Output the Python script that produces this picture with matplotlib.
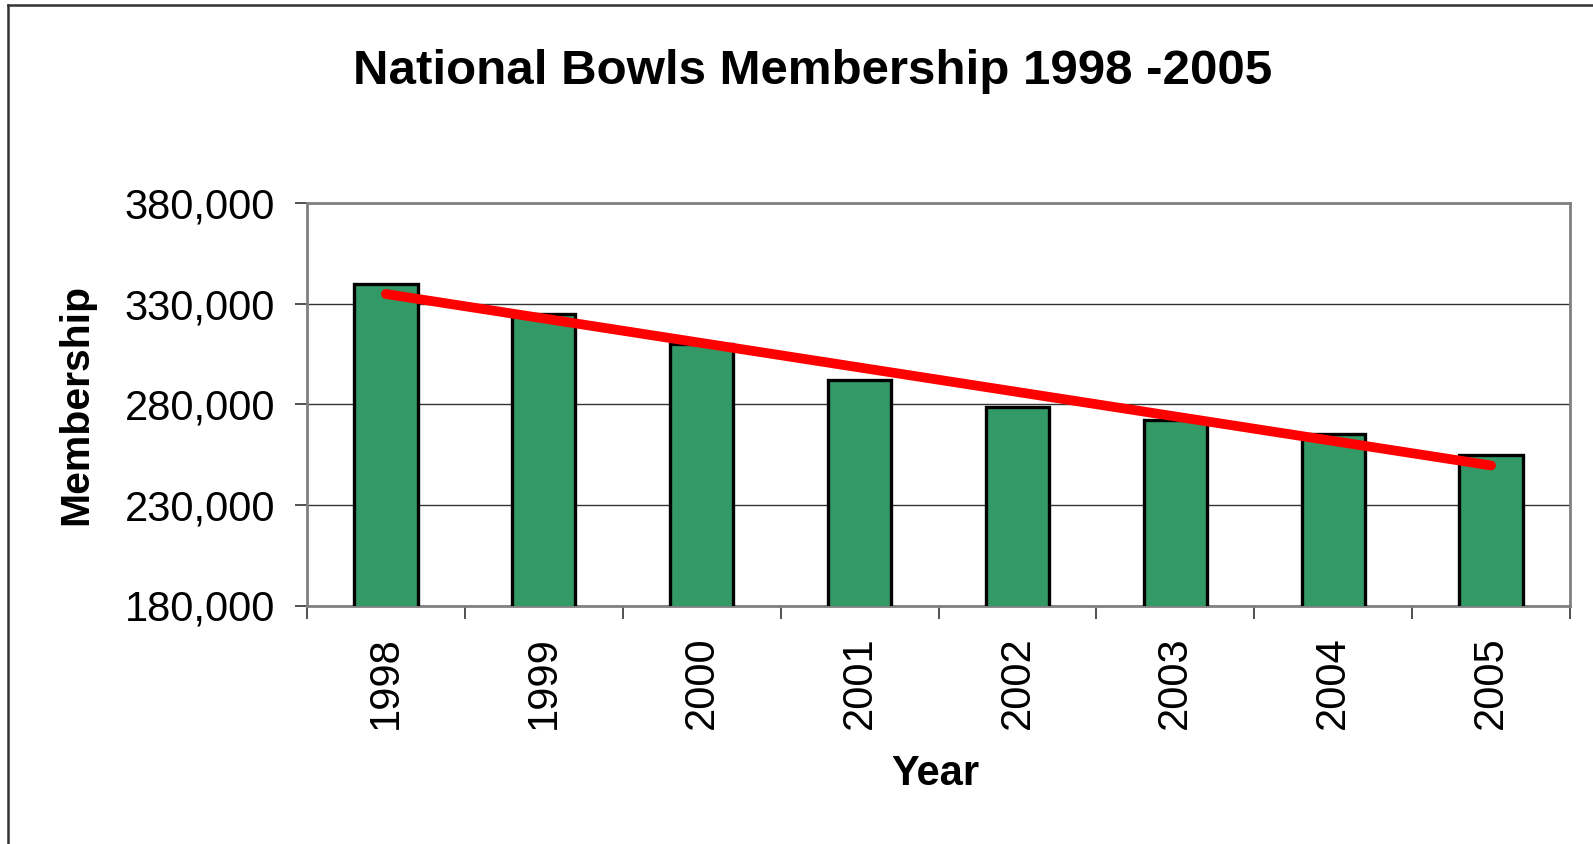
import numpy as np
import matplotlib
matplotlib.use("Agg")
import matplotlib.pyplot as plt
from matplotlib.lines import Line2D
from matplotlib.ticker import FuncFormatter, FixedLocator

plt.rcParams['font.family'] = ['Liberation Sans', 'DejaVu Sans']

years = ["1998", "1999", "2000", "2001", "2002", "2003", "2004", "2005"]
membership = [340000, 325000, 310000, 292000, 278500, 272000, 265000, 255000]
y_ticks = [180000, 230000, 280000, 330000, 380000]

W, H, DPI = 1593, 844, 100
fig = plt.figure(figsize=(W / DPI, H / DPI), dpi=DPI)
fig.patch.set_facecolor("white")

# outer chart border (left and top edges visible)
fig.add_artist(Line2D([8 / W, 8 / W], [0, 1 - 5 / H], transform=fig.transFigure,
                      color="#333333", lw=1.8))
fig.add_artist(Line2D([8 / W, 1], [1 - 5 / H, 1 - 5 / H], transform=fig.transFigure,
                      color="#333333", lw=1.8))

left, right, top, bottom = 307 / W, 1570 / W, 1 - 203 / H, 1 - 605.5 / H
ax = fig.add_axes([left, bottom, right - left, top - bottom])

x = np.arange(len(years))
ax.bar(x, membership, width=0.4, color="#339966", edgecolor="black",
       linewidth=2.4, zorder=3)

# linear trendline
coef = np.polyfit(x, membership, 1)
ax.plot([x[0], x[-1]], np.polyval(coef, [x[0], x[-1]]), color="#ff0000", lw=7,
        solid_capstyle="round", zorder=4)

ax.set_ylim(y_ticks[0], y_ticks[-1])
ax.set_xlim(-0.5, len(years) - 0.5)
ax.yaxis.set_major_locator(FixedLocator(y_ticks))
ax.yaxis.set_major_formatter(FuncFormatter(lambda v, p: f"{int(v):,}"))
ax.grid(axis="y", color="#333333", lw=1.0, zorder=1)

ax.xaxis.set_major_locator(FixedLocator(x))
ax.set_xticklabels(years, rotation=90, fontsize=30)
ax.xaxis.set_minor_locator(FixedLocator(np.arange(len(years) + 1) - 0.5))
ax.tick_params(axis="x", which="major", length=0, pad=22)
ax.tick_params(axis="x", which="minor", length=9, width=1.2, color="#333333")
ax.tick_params(axis="y", length=9, width=1.2, color="#333333", labelsize=30, pad=14)

for s in ax.spines.values():
    s.set_color("#808080")
    s.set_linewidth(2)

ax.set_ylabel("Membership", fontsize=29.5, fontweight="bold")
ax.yaxis.set_label_coords((76 - 307) / (1570 - 307), 0.5)
ax.yaxis.label.set_va("center")
ax.set_xlabel("Year", fontsize=30, fontweight="bold")
ax.xaxis.set_label_coords((935 - 307) / (1570 - 307), (605.5 - 774) / (605.5 - 203))
ax.xaxis.label.set_va("center")

fig.text(813 / W, 1 - 71 / H, "National Bowls Membership 1998 -2005", fontsize=35.5,
         fontweight="bold", ha="center", va="center")

fig.savefig("out.png", dpi=DPI)
